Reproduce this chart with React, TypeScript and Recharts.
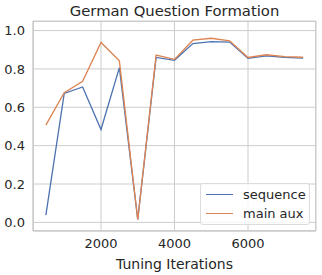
import React from 'react';
import { LineChart, Line, XAxis, YAxis, CartesianGrid } from 'recharts';

const iterations = [500, 1000, 1500, 2000, 2500, 3000, 3500, 4000, 4500, 5000, 5500, 6000, 6500, 7000, 7500];
const sequenceAcc = [0.038, 0.672, 0.706, 0.484, 0.807, 0.015, 0.86, 0.845, 0.932, 0.942, 0.94, 0.855, 0.868, 0.86, 0.856];
const mainAuxAcc = [0.507, 0.676, 0.736, 0.938, 0.842, 0.015, 0.872, 0.85, 0.95, 0.96, 0.947, 0.86, 0.874, 0.864, 0.861];

const xTicks = [2000, 4000, 6000];
const yTicks = [0, 0.2, 0.4, 0.6, 0.8, 1.0];

const seriesList = [
  { key: 'sequence', name: 'sequence', color: '#4c72b0' },
  { key: 'mainAux', name: 'main aux', color: '#dd8452' },
];

const data = iterations.map((it, i) => ({
  iter: it,
  sequence: sequenceAcc[i],
  mainAux: mainAuxAcc[i],
}));

const FONT = '"DejaVu Sans", sans-serif';
const TEXT = '#262626';
const GRID = '#cccccc';

// legend drawn outside recharts so it doesn't steal plot space
const LegendBox = () => (
  <div
    style={{
      position: 'absolute',
      left: 200,
      top: 183,
      width: 110,
      height: 42,
      boxSizing: 'border-box',
      border: '1px solid #dcdcdc',
      borderRadius: 3,
      background: 'rgba(255,255,255,0.8)',
      padding: '1px 0 0 5px',
      fontFamily: FONT,
      fontSize: 13,
      color: TEXT,
      whiteSpace: 'nowrap',
    }}
  >
    {seriesList.map((s) => (
      <div key={s.key} style={{ display: 'flex', alignItems: 'center', height: 19 }}>
        <span style={{ width: 27, height: 0, borderTop: `1.5px solid ${s.color}`, marginRight: 10 }} />
        <span>{s.name}</span>
      </div>
    ))}
  </div>
);

export default function App() {
  return (
    <div style={{ position: 'absolute', left: 0, top: 0, width: 322, height: 275, background: '#fff' }}>
      <div
        style={{
          position: 'absolute',
          left: 33,
          width: 283,
          top: 2,
          textAlign: 'center',
          fontFamily: FONT,
          fontSize: 14.8,
          color: TEXT,
        }}
      >
        German Question Formation
      </div>
      <LineChart width={322} height={275} data={data} margin={{ top: 21, right: 6, left: 0, bottom: 0 }}>
        <CartesianGrid stroke={GRID} strokeWidth={1} />
        <XAxis
          dataKey="iter"
          type="number"
          domain={[150, 7850]}
          ticks={xTicks}
          height={44}
          tickSize={0}
          tickMargin={8}
          axisLine={{ stroke: GRID }}
          tick={{ fill: TEXT, fontSize: 13, fontFamily: FONT }}
          label={{
            value: 'Tuning Iterations',
            position: 'insideBottom',
            offset: 6,
            style: { fill: TEXT, fontSize: 14, fontFamily: FONT },
          }}
        />
        <YAxis
          type="number"
          domain={[-0.045, 1.05]}
          ticks={yTicks}
          width={33}
          tickSize={0}
          tickMargin={8}
          axisLine={{ stroke: GRID }}
          tickFormatter={(v: number) => v.toFixed(1)}
          tick={{ fill: TEXT, fontSize: 13, fontFamily: FONT }}
        />
        {seriesList.map((s) => (
          <Line
            key={s.key}
            dataKey={s.key}
            name={s.name}
            type="linear"
            stroke={s.color}
            strokeWidth={1.3}
            dot={false}
            isAnimationActive={false}
          />
        ))}
      </LineChart>
      <div
        style={{
          position: 'absolute',
          left: 33,
          top: 21,
          width: 283,
          height: 210,
          boxSizing: 'border-box',
          border: `1px solid ${GRID}`,
          pointerEvents: 'none',
        }}
      />
      <LegendBox />
    </div>
  );
}
